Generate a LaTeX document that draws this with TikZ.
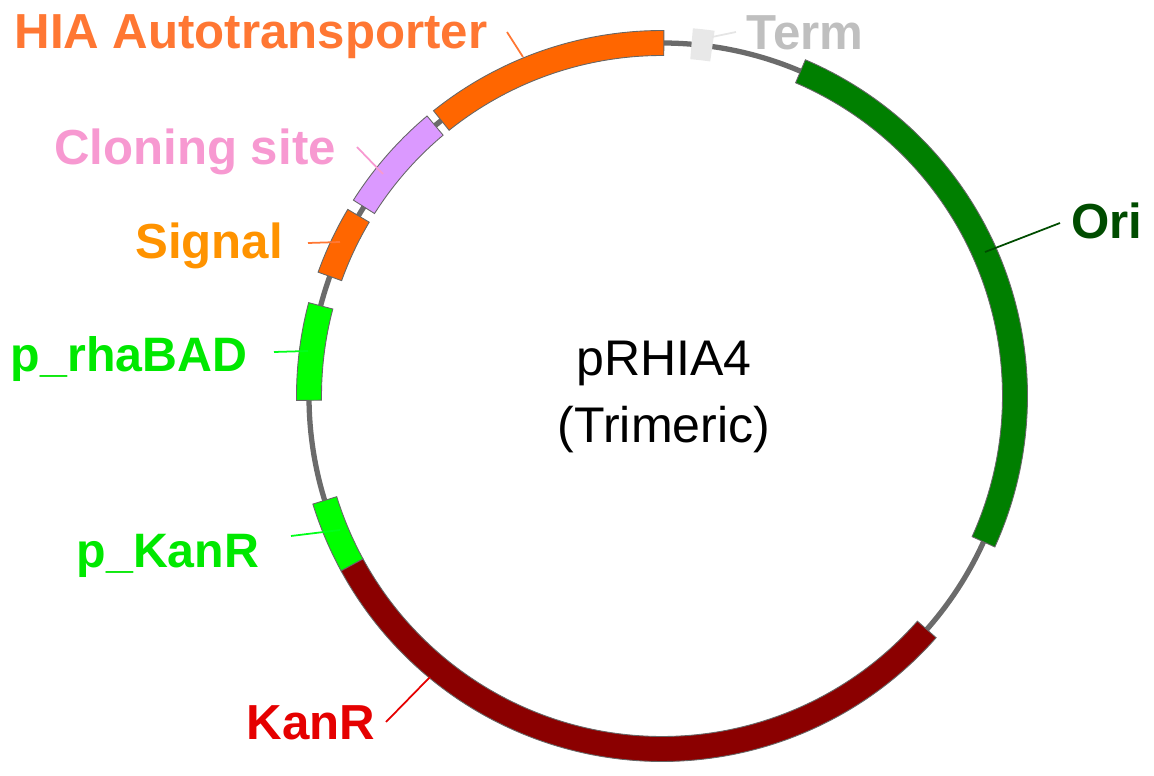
\documentclass[tikz,border=0pt]{standalone}
\usepackage{fontspec}
\setmainfont{Liberation Sans}

\definecolor{hiaorange}{HTML}{FF6600}
\definecolor{cloningpurple}{HTML}{DB99FF}
\definecolor{promgreen}{HTML}{00FF00}
\definecolor{kanmaroon}{HTML}{8B0000}
\definecolor{origreen}{HTML}{007F00}
\definecolor{termgrey}{HTML}{E8E8E8}
\definecolor{hiatext}{HTML}{FF7733}
\definecolor{promtext}{HTML}{00E800}

\tikzset{
    backbone/.style={draw=black!58, line width=3pt},
    feature/.style={draw=black!60, line width=0.5pt},
    label/.style={font=\fontsize{28}{32}\selectfont\bfseries, inner sep=0pt},
    promlabel/.style={label, font=\fontsize{27.5}{32}\selectfont\bfseries, text=promtext},
    leader/.style={line width=1pt}
}

\begin{document}
\begin{tikzpicture}[x=0.02cm, y=0.02cm]
    \useasboundingbox (0,0) rectangle (1154,775);

    \coordinate (c) at (662,379);
    \draw[backbone] (c) circle (353);

    % features, angles measured round c
    \foreach \start/\stop/\col in {
        89.7/128.7/hiaorange,
        130/147.6/cloningpurple,
        149.3/160.2/hiaorange,
        165.2/180.7/promgreen,
        197.2/208.6/promgreen,
        208.6/318.6/kanmaroon,
        -24.4/66.9/origreen}
    {
        \draw[feature, fill=\col] ([shift={(\start:365.5)}]c)
            arc [start angle=\start, end angle=\stop, radius=365.5]
            -- ([shift={(\stop:340.5)}]c)
            arc [start angle=\stop, end angle=\start, radius=340.5] -- cycle;
    }
    \fill[termgrey] ([shift={(81.8:369)}]c)
        arc [start angle=81.8, end angle=85.2, radius=369]
        -- ([shift={(85.2:338)}]c)
        arc [start angle=85.2, end angle=81.8, radius=338] -- cycle;

    \node[font=\fontsize{28.5}{38}\selectfont, align=center] (plasmid) at (664,378) {pRHIA4\\(Trimeric)};

    \node[label, text=hiatext] (hia) at (251,738) {HIA Autotransporter};
    \node[label, text=magenta!40!white] (cloning) at (195,623) {Cloning site};
    \node[label, text=orange!85!yellow] (signal) at (209,529) {Signal};
    \node[promlabel] (rha) at (129,416) {p\_rhaBAD};
    \node[promlabel] (pkan) at (168,219) {p\_KanR};
    \node[label, text=red!90!black] (kan) at (311,52) {KanR};
    \node[label, text=green!30!black] (ori) at (1107,554) {Ori};
    \node[label, text=black!25] (term) at (805,742) {Term};

    % leader lines
    \coordinate (hia1) at (507,743);
    \coordinate (hia2) at (523,718);
    \coordinate (cloning1) at (357,628);
    \coordinate (cloning2) at (383,601);
    \coordinate (signal1) at (308,532);
    \coordinate (signal2) at (340,533);
    \coordinate (rha1) at (274,423);
    \coordinate (rha2) at (308,424);
    \coordinate (pkan1) at (291,239);
    \coordinate (pkan2) at (340,245);
    \coordinate (kan1) at (386,53);
    \coordinate (kan2) at (430,98);
    \coordinate (ori1) at (1060,552);
    \coordinate (ori2) at (985,523);
    \coordinate (term1) at (736,743);
    \coordinate (term2) at (712,738);

    \draw[leader, color=hiatext] (hia1) -- (hia2);
    \draw[leader, color=magenta!40!white] (cloning1) -- (cloning2);
    \draw[leader, color=hiatext] (signal1) -- (signal2);
    \draw[leader, color=green!90!cyan] (rha1) -- (rha2);
    \draw[leader, color=green!90!cyan] (pkan1) -- (pkan2);
    \draw[leader, color=red!90!black] (kan1) -- (kan2);
    \draw[leader, color=green!30!black] (ori1) -- (ori2);
    \draw[leader, color=black!10] (term1) -- (term2);
\end{tikzpicture}
\end{document}
